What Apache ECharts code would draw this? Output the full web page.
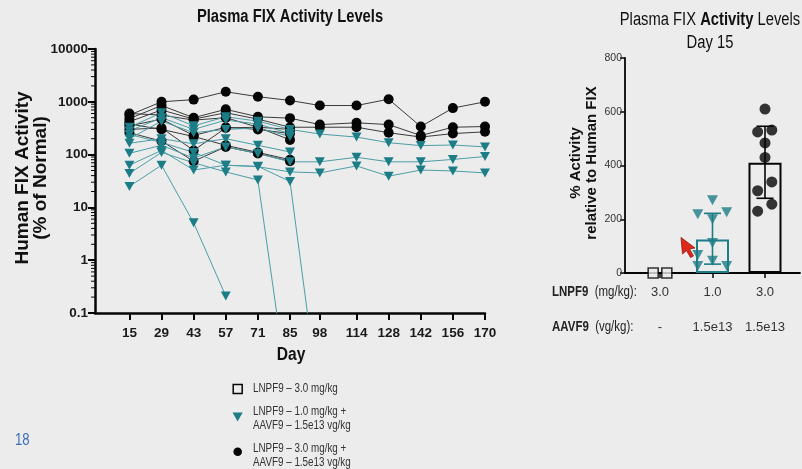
<!DOCTYPE html>
<html><head><meta charset="utf-8">
<script src="https://cdn.jsdelivr.net/npm/echarts@6/dist/echarts.min.js"></script>
<style>html,body{margin:0;padding:0;background:#ececec;}#c{width:802px;height:469px;}</style>
</head><body><div id="c"></div>
<script>
// ---------- DATA ----------
const days = [15,29,43,57,71,85,98,114,128,142,156,170];
const logMinorTicks = [0.2,0.3,0.4,0.5,0.6,0.7,0.8,0.9, 2,3,4,5,6,7,8,9, 20,30,40,50,60,70,80,90,
                       200,300,400,500,600,700,800,900, 2000,3000,4000,5000,6000,7000,8000,9000];
// LNPF9 3.0 mg/kg + AAVF9 1.5e13 vg/kg (black circles), one array per animal
const blk1 = [560,1000,1100,1550,1250,1060,850,850,1120,340,760,1000];
const blk2 = [480,850,500,720,520,490,370,400,370,230,330,340];
const blk3 = [420,700,470,620,470,330,330,330,260,215,250,270];
const blk4 = [600,560,450,500,330,300];
const blk5 = [350,470,230,330,300,250];
const blk6 = [300,320,120,320,330,190];
const blk7 = [260,180,75,140,105,75];
const blk8 = [380,300,220,150,110,80];
// LNPF9 1.0 mg/kg + AAVF9 1.5e13 vg/kg (teal triangles)
const teal1 = [330,620,350,520,430,300,245,215,168,148,152,140];
const teal2 = [280,500,300,450,380,250];
const teal3 = [200,430,260,300,320,220];
const teal4 = [164,200,160,200,150,112];
const teal5 = [106,150,86,140,105,73,73,89,73,73,81,92];
const teal6 = [63,120,51,63,59,47,45,61,39,51,49,45];
const teal7 = [25,63,5.1,0.21];
const teal8 = [44,110,70,47,33,0.0017];
const teal9 = [240,170,110,63,60,31,0.0017];

// Day 15 panel
const groupPos = [1,2,3];
const lnpfLabels = ['3.0','1.0','3.0'];
const aavfLabels = ['-','1.5e13','1.5e13'];
const d15Square = [0,0];
const d15SquareJit = [-0.13,0.13];
const d15Teal = [271,219,200,226,112,67,46,26,26];
const d15TealJit = [0,-0.28,0,0.27,0,-0.28,0,-0.28,0.27];
const d15Black = [610,525,532,484,430,339,306,256,230];
const d15BlackJit = [0,-0.14,0.13,0,0,0.13,-0.14,0.13,-0.14];
const barMean = [0,125,410];
const errLow = [0,33,278];
const errHigh = [0,222,546];

// ---------- STYLE ----------
const SANS = "'Liberation Sans',Arial,sans-serif";
const NX = 0.82; // horizontal squeeze to imitate a narrow face
const TEAL = '#1d7d87', TEAL_LINE = '#4b9ea6', BLACK = '#050505', BLACK_LINE = '#3a3a3a';
const BG = '#ececec';

function pairs(v){ return v.map((y,i)=>[days[i], y]); }
function ntext(x, y, text, font, extra){
  return {type:'text', x, y, scaleX:NX, style:Object.assign({text, font, fill:'#111', verticalAlign:'middle'}, extra||{})};
}

const blackSets = [blk1,blk2,blk3,blk4,blk5,blk6,blk7,blk8];
const tealSets = [teal1,teal2,teal3,teal4,teal5,teal6,teal7,teal8,teal9];

const series = [];
series.push({
  type:'custom', xAxisIndex:0, yAxisIndex:0, silent:true, animation:false,
  data: logMinorTicks.map(v=>[0, v]),
  renderItem(params, api){
    const p = api.coord([0, api.value(1)]);
    return {type:'line', shape:{x1:p[0]-4, y1:p[1], x2:p[0], y2:p[1]}, style:{stroke:BLACK, lineWidth:1}};
  }
});
blackSets.forEach(v => series.push({
  type:'line', xAxisIndex:0, yAxisIndex:0, data:pairs(v), symbol:'circle', symbolSize:10,
  lineStyle:{color:BLACK_LINE, width:1}, itemStyle:{color:BLACK}, silent:true, animation:false, clip:true
}));
tealSets.forEach(v => series.push({
  type:'line', xAxisIndex:0, yAxisIndex:0, data:pairs(v), symbol:'triangle', symbolRotate:180, symbolSize:[10,9],
  lineStyle:{color:TEAL_LINE, width:1}, itemStyle:{color:TEAL}, silent:true, animation:false, clip:true
}));

const barColors = [BLACK, TEAL, BLACK];
series.push({
  type:'bar', xAxisIndex:1, yAxisIndex:1, barWidth:33, animation:false, silent:true,
  data: groupPos.map((x,i)=>({value:[x, barMean[i]], itemStyle:{color:'rgba(0,0,0,0)', borderColor:barColors[i], borderWidth:2}}))
});
series.push({
  type:'custom', xAxisIndex:1, yAxisIndex:1, animation:false, silent:true,
  data: groupPos.map((x,i)=>[x, errLow[i], errHigh[i]]).slice(1),
  renderItem(params, api){
    const c = barColors[params.dataIndex+1];
    const x = api.value(0);
    const lo = api.coord([x, api.value(1)]), hi = api.coord([x, api.value(2)]);
    const w = 8.5;
    const st = {stroke:c, lineWidth:1.6};
    return {type:'group', children:[
      {type:'line', shape:{x1:lo[0],y1:lo[1],x2:hi[0],y2:hi[1]}, style:st},
      {type:'line', shape:{x1:lo[0]-w,y1:lo[1],x2:lo[0]+w,y2:lo[1]}, style:st},
      {type:'line', shape:{x1:hi[0]-w,y1:hi[1],x2:hi[0]+w,y2:hi[1]}, style:st}
    ]};
  }
});
series.push({
  type:'scatter', xAxisIndex:1, yAxisIndex:1, symbol:'rect', symbolSize:10, animation:false, silent:true,
  itemStyle:{color:BG, borderColor:BLACK, borderWidth:1.6},
  data: d15Square.map((v,i)=>[groupPos[0]+d15SquareJit[i], v])
});
series.push({
  type:'scatter', xAxisIndex:1, yAxisIndex:1, symbol:'triangle', symbolRotate:180, symbolSize:[11,10], animation:false, silent:true,
  itemStyle:{color:TEAL}, data: d15Teal.map((v,i)=>[groupPos[1]+d15TealJit[i], v])
});
series.push({
  type:'scatter', xAxisIndex:1, yAxisIndex:1, symbol:'circle', symbolSize:11, animation:false, silent:true,
  itemStyle:{color:BLACK}, data: d15Black.map((v,i)=>[groupPos[2]+d15BlackJit[i], v])
});

const option = {
  backgroundColor: BG,
  animation:false,
  grid:[
    {left:95, top:49, width:390, height:264},
    {left:625, top:58, width:175, height:215}
  ],
  xAxis:[
    {type:'value', gridIndex:0, min:0, max:170,
     axisLine:{show:true, onZero:false, lineStyle:{color:BLACK, width:2.5}},
     axisTick:{show:true, customValues:days, length:7, lineStyle:{color:BLACK, width:2}},
     axisLabel:{customValues:days, color:'#1a1a1a', fontFamily:SANS, fontWeight:'bold', fontSize:13.5, margin:13},
     splitLine:{show:false}},
    {type:'value', gridIndex:1, min:1/3, max:11/3,
     axisLine:{show:true, onZero:false, lineStyle:{color:BLACK, width:1.8}},
     axisTick:{show:true, customValues:groupPos, length:5, lineStyle:{color:BLACK, width:1.5}},
     axisLabel:{customValues:groupPos, margin:2,
       formatter:(v)=>{const i=Math.round(v)-1; return '{a|'+lnpfLabels[i]+'}\n{a|'+aavfLabels[i]+'}';},
       rich:{a:{fontFamily:SANS, fontSize:13, color:'#333', lineHeight:35}}},
     splitLine:{show:false}}
  ],
  yAxis:[
    {type:'log', logBase:10, gridIndex:0, min:0.1, max:10000,
     axisLine:{show:true, lineStyle:{color:BLACK, width:2.5}},
     axisTick:{show:true, length:7, lineStyle:{color:BLACK, width:2}},
     axisLabel:{formatter:(v)=>String(+(+v).toPrecision(6)), color:'#1a1a1a', fontFamily:SANS, fontWeight:'bold', fontSize:13.5, margin:7},
     splitLine:{show:false}},
    {type:'value', gridIndex:1, min:0, max:800, interval:200,
     axisLine:{show:true, lineStyle:{color:BLACK, width:1.8}},
     axisTick:{show:true, length:5, lineStyle:{color:BLACK, width:1.5}},
     axisLabel:{color:'#333', fontFamily:SANS, fontSize:10.5, margin:3},
     splitLine:{show:false}}
  ],
  graphic:[
    ntext(290, 17, 'Plasma FIX Activity Levels', "bold 18px "+SANS, {align:'center'}),
    {type:'text', x:23, y:178, rotation:Math.PI/2, style:{text:'Human FIX Activity', font:"bold 19px "+SANS, fill:'#111', align:'center', verticalAlign:'middle'}},
    {type:'text', x:41, y:178, rotation:Math.PI/2, style:{text:'(% of Normal)', font:"bold 19px "+SANS, fill:'#111', align:'center', verticalAlign:'middle'}},
    ntext(291, 355, 'Day', "bold 19px "+SANS, {align:'center'}),
    // legend
    {type:'rect', shape:{x:233.2,y:384.5,width:9,height:9}, style:{fill:'none', stroke:BLACK, lineWidth:1.5}},
    ntext(253, 389, 'LNPF9 \u2013 3.0 mg/kg', "12px "+SANS, {fill:'#333'}),
    {type:'polygon', shape:{points:[[232.5,412.5],[242.7,412.5],[237.6,421.5]]}, style:{fill:TEAL}},
    ntext(253, 411.5, 'LNPF9 \u2013 1.0 mg/kg +', "12px "+SANS, {fill:'#333'}),
    ntext(253, 426, 'AAVF9 \u2013 1.5e13 vg/kg', "12px "+SANS, {fill:'#333'}),
    {type:'circle', shape:{cx:237.7, cy:451.7, r:4.3}, style:{fill:BLACK}},
    ntext(253, 448.3, 'LNPF9 \u2013 3.0 mg/kg +', "12px "+SANS, {fill:'#333'}),
    ntext(253, 462.7, 'AAVF9 \u2013 1.5e13 vg/kg', "12px "+SANS, {fill:'#333'}),
    ntext(15, 441, '18', "16px "+SANS, {fill:'#3b6fb6'}),
    // right panel texts
    {type:'text', x:710, y:20, scaleX:NX, style:{text:'{r|Plasma FIX }{b|Activity}{r| Levels}', align:'center', verticalAlign:'middle',
      rich:{r:{fontFamily:SANS, fontSize:18, fill:'#111'}, b:{fontFamily:SANS, fontSize:18, fontWeight:'bold', fill:'#111'}}}},
    ntext(710, 43, 'Day 15', "18px "+SANS, {align:'center'}),
    {type:'text', x:584, y:163, rotation:Math.PI/2, style:{text:'% Activity\nrelative to Human FIX', font:"bold 15px "+SANS, lineHeight:16, fill:'#111', align:'center', verticalAlign:'middle'}},
    {type:'text', x:552, y:292, scaleX:NX, style:{text:'{b|LNPF9}{r|  (mg/kg):}', verticalAlign:'middle',
      rich:{b:{fontFamily:SANS, fontSize:14, fontWeight:'bold', fill:'#222'}, r:{fontFamily:SANS, fontSize:14, fill:'#222'}}}},
    {type:'text', x:552, y:327, scaleX:NX, style:{text:'{b|AAVF9}{r|  (vg/kg):}', verticalAlign:'middle',
      rich:{b:{fontFamily:SANS, fontSize:14, fontWeight:'bold', fill:'#222'}, r:{fontFamily:SANS, fontSize:14, fill:'#222'}}}},
    // mouse pointer seen in the screenshot
    {type:'polygon', shape:{points:[[681,237.5],[682.5,254],[686.5,250.5],[690.5,257.5],[693.5,256],[689.5,249],[695,248]]},
      style:{fill:'#e0281a', stroke:'#8a1a10', lineWidth:0.8}, z:100}
  ],
  series
};
const chart = echarts.init(document.getElementById('c'), null, {renderer:'canvas'});
chart.setOption(option);
</script></body></html>
